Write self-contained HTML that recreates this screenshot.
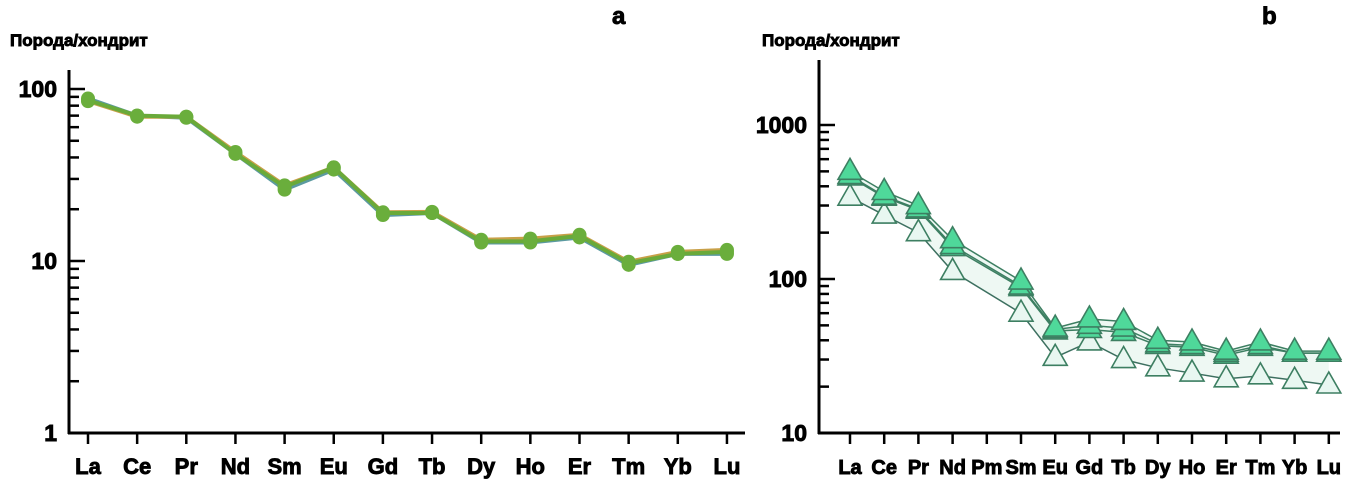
<!DOCTYPE html>
<html><head><meta charset="utf-8"><style>
body{margin:0;background:#fff;width:1369px;height:484px;overflow:hidden}
svg{display:block;font-family:"Liberation Sans",Arial,sans-serif;font-weight:bold}
svg text{stroke:#000;stroke-width:0.9px}
</style></head><body>
<svg id="s" width="1369" height="484">
<text x="10" y="46" font-size="17">Порода/хондрит</text>
<text x="612" y="24" font-size="24">a</text>
<text x="762" y="46" font-size="17">Порода/хондрит</text>
<text x="1262" y="24" font-size="24">b</text>
</svg>
<script>
const catsA=["La","Ce","Pr","Nd","Sm","Eu","Gd","Tb","Dy","Ho","Er","Tm","Yb","Lu"];
const serA1=[86,70,69,42,27,35,19,19,13,13,14,9.7,11,11.3];
const serA2=[88,70,68,42,26,34,18.5,19,12.8,12.8,13.7,9.5,11,11];
const serA3=[85,69,69,43,27.5,35,19.2,19.3,13.3,13.5,14.2,9.9,11.3,11.6];
const ticksA=[1,10,100];
const catsB=["La","Ce","Pr","Nd","Pm","Sm","Eu","Gd","Tb","Dy","Ho","Er","Tm","Yb","Lu"];
const serB1=[500,370,300,180,null,97,48,55,53,40,39,34,39,34,34];
const serB2=[470,345,285,165,null,90,47,50,48,38,37,33,37,33,33];
const serB3=[460,340,280,160,null,88,46,47,45,37,36,32,36,33,33];
const serB4=[340,260,200,112,null,60,31,39,30,26.5,24.5,22.5,23.5,22,20.5];
const ticksB=[10,100,1000];

const s=document.getElementById('s');const NS='http://www.w3.org/2000/svg';
function mk(t,a,name,p){const e=document.createElementNS(NS,t);for(const k in a)e.setAttribute(k,a[k]);


(p||s).appendChild(e);return e;}

function chart(o){
 const xs=i=>o.x0+i*o.dx;
 const ys=v=>o.yBase-(Math.log10(v)-Math.log10(o.vmin))*o.dec;
 mk('line',{x1:o.ax,y1:o.top,x2:o.ax,y2:o.yBase+1,stroke:'#000','stroke-width':3},'y-axis-'+o.id);
 mk('line',{x1:o.ax-1,y1:o.yBase,x2:o.xEnd,y2:o.yBase,stroke:'#000','stroke-width':3},'x-axis-'+o.id);
 for(let d=0;d<o.decs;d++){for(let m=1;m<=9;m++){const v=o.vmin*Math.pow(10,d)*m;const y=ys(v);if(y<o.top)continue;
   if(m===1&&d===0)continue;
   mk('line',{x1:o.ax,y1:y,x2:o.ax+(m===1?16:10),y2:y,stroke:'#000','stroke-width':2.5},'y-tick-'+o.id);}}
 const topv=o.vmin*Math.pow(10,o.decs);if(ys(topv)>=o.top)mk('line',{x1:o.ax,y1:ys(topv),x2:o.ax+16,y2:ys(topv),stroke:'#000','stroke-width':2.5},'y-tick-'+o.id);
 o.ticks.forEach(v=>{const t=mk('text',{x:o.ax-12,y:ys(v)+8,'font-size':23,'text-anchor':'end'},'y-tick-label-'+o.id);t.textContent=v;});
 o.cats.forEach((c,i)=>{mk('line',{x1:xs(i),y1:o.yBase,x2:xs(i),y2:o.yBase+11,stroke:'#000','stroke-width':2.5},'x-tick-'+o.id);
   const t=mk('text',{x:xs(i),y:o.yBase+41,'font-size':o.fs,'text-anchor':'middle'},'x-tick-label-'+o.id);t.textContent=c;});
 return {xs,ys};
}
const A=chart({id:'a',x0:88,dx:49.15,ax:69,top:70,yBase:433,dec:172,vmin:1,decs:2,ticks:ticksA,cats:catsA,xEnd:745,fs:22});
[[serA2,'#5b9aa0'],[serA3,'#c8a048'],[serA1,'#6aaa3a']].forEach(([sr,col])=>{
 const pts=sr.map((v,i)=>A.xs(i)+','+A.ys(v)).join(' ');
 mk('polyline',{points:pts,fill:'none',stroke:col,'stroke-width':4},'series-line-a');
 sr.forEach((v,i)=>mk('circle',{cx:A.xs(i),cy:A.ys(v),r:7,fill:'#6aae3c'},'series-point-a'));
});
const B=chart({id:'b',x0:850,dx:34.2,ax:819,top:60,yBase:433,dec:154,vmin:10,decs:2,ticks:ticksB,cats:catsB,xEnd:1340,fs:20});
function segPts(sr){const p=[];sr.forEach((v,i)=>{if(v!=null)p.push(B.xs(i)+','+B.ys(v));});return p.join(' ');}
{const up=[],lo=[];serB1.forEach((v,i)=>{if(v!=null)up.push(B.xs(i)+','+B.ys(v));});
 for(let i=serB4.length-1;i>=0;i--)if(serB4[i]!=null)lo.push(B.xs(i)+','+B.ys(serB4[i]));
 mk('polygon',{points:up.concat(lo).join(' '),fill:'#eef8f3'},'envelope-b');}
function tri(x,y,fill,name){mk('polygon',{points:`${x},${y-13} ${x-12},${y+8} ${x+12},${y+8}`,fill:fill,stroke:'#3d7f62','stroke-width':1.6},name);}
mk('polyline',{points:segPts(serB4),fill:'none',stroke:'#3d7060','stroke-width':1.5},'series-line-b-open');
serB4.forEach((v,i)=>{if(v!=null)tri(B.xs(i),B.ys(v),'#e8f7f1','series-point-b-open');});
[serB3,serB2,serB1].forEach(sr=>{
 mk('polyline',{points:segPts(sr),fill:'none',stroke:'#3d7f62','stroke-width':1.5},'series-line-b');
 sr.forEach((v,i)=>{if(v!=null)tri(B.xs(i),B.ys(v),'#4fd89a','series-point-b');});
});
</script>
</body></html>
